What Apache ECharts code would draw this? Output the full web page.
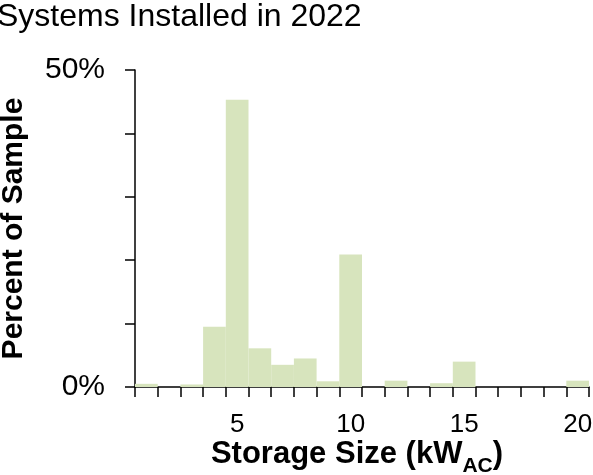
<!DOCTYPE html>
<html>
<head>
<meta charset="utf-8">
<script src="https://cdn.jsdelivr.net/npm/echarts@6/dist/echarts.min.js"></script>
<style>
  html, body { margin: 0; padding: 0; background: #ffffff; }
  #chart { width: 593px; height: 475px; }
</style>
</head>
<body>
<div id="chart"></div>
<script>
// Bins of width 1 kW_AC, labelled by upper edge
const categories = ['1','2','3','4','5','6','7','8','9','10','11','12','13','14','15','16','17','18','19','20'];
// Percent of sample in each bin
const percentValues = [0.5, 0, 0.4, 9.5, 45.3, 6.1, 3.5, 4.5, 0.9, 20.9, 0, 1.0, 0, 0.6, 4.0, 0, 0, 0, 0, 1.0];
// Tick labels shown
const xTickLabels = ['5','10','15','20'];
const yTickLabels = [0, 50];

const FONT = '"Liberation Sans", Arial, sans-serif';
const chart = echarts.init(document.getElementById('chart'), null, { renderer: 'canvas' });

chart.setOption({
  animation: false,
  backgroundColor: '#ffffff',
  title: {
    text: 'Systems Installed in 2022',
    left: -3,
    top: 1,
    padding: 0,
    textStyle: { fontFamily: FONT, fontSize: 32, fontWeight: 'normal', color: '#000000' }
  },
  grid: { left: 135, right: 4, top: 70, bottom: 88, containLabel: false, outerBoundsMode: 'none' },
  xAxis: {
    type: 'category',
    data: categories,
    boundaryGap: true,
    name: '{b|Storage Size (kW}{s|AC}{b|)}',
    nameLocation: 'middle',
    nameGap: 52,
    nameMoveOverlap: false,
    nameTextStyle: {
      padding: [0, 10, 0, 0],
      rich: {
        b: { fontFamily: FONT, fontSize: 31, fontWeight: 'bold', color: '#000', lineHeight: 31 },
        s: { fontFamily: FONT, fontSize: 21, fontWeight: 'bold', color: '#000', lineHeight: 21, padding: [24, 0, 0, 0] }
      }
    },
    axisLine: { show: true, lineStyle: { color: '#000000', width: 1.5 } },
    axisTick: { show: true, interval: 0, length: 10, alignWithLabel: false, lineStyle: { color: '#000000', width: 1.5 } },
    axisLabel: {
      interval: 0,
      margin: 25,
      fontFamily: FONT,
      fontSize: 26,
      color: '#000000',
      formatter: v => xTickLabels.includes(v) ? v : ''
    },
    splitLine: { show: false }
  },
  yAxis: {
    type: 'value',
    min: 0,
    max: 50,
    interval: 10,
    name: 'Percent of Sample',
    nameLocation: 'middle',
    nameGap: 106,
    nameMoveOverlap: false,
    nameTextStyle: { fontFamily: FONT, fontSize: 30, fontWeight: 'bold', color: '#000' },
    axisLine: { show: true, lineStyle: { color: '#000000', width: 1.5 } },
    axisTick: { show: true, length: 10, lineStyle: { color: '#000000', width: 1.5 } },
    axisLabel: {
      margin: 30,
      fontFamily: FONT,
      fontSize: 30,
      color: '#000000',
      formatter: v => yTickLabels.includes(v) ? v + '%' : ''
    },
    splitLine: { show: false }
  },
  series: [{
    type: 'bar',
    data: percentValues,
    barWidth: '100%',
    barCategoryGap: 0,
    itemStyle: { color: '#D7E4BD' },
    z: 1
  }]
});
</script>
</body>
</html>
